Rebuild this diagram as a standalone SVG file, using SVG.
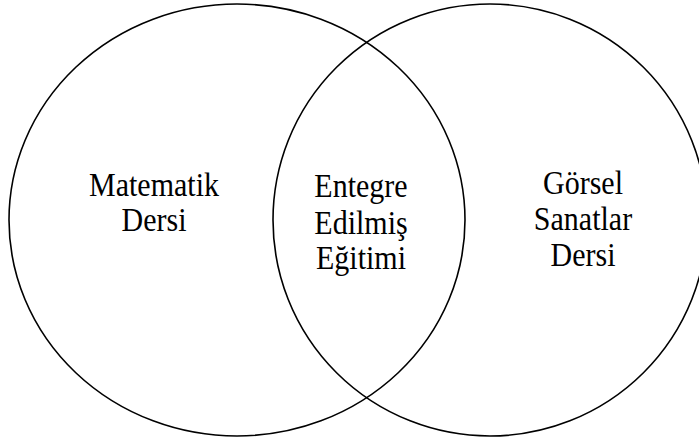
<svg xmlns="http://www.w3.org/2000/svg" width="699" height="441" viewBox="0 0 699 441">
<style>
.c{fill:none;stroke:#000;stroke-width:1.6}
.t{font-family:"Liberation Serif","Times New Roman",serif;font-size:30px;fill:#000;text-anchor:middle}
</style>
<rect width="699" height="441" fill="#fff"/>
<g id="math"><ellipse class="c" cx="237" cy="220" rx="228" ry="216"/>
<g transform="scale(1,1.12)"><text class="t" x="154" y="174.6">Matematik</text><text class="t" x="154" y="206.7">Dersi</text></g></g>
<g id="art"><ellipse class="c" cx="490" cy="220" rx="217" ry="216"/>
<g transform="scale(1,1.12)"><text class="t" x="583" y="172.8">Görsel</text><text class="t" x="583" y="205">Sanatlar</text><text class="t" x="583" y="237.1">Dersi</text></g></g>
<g id="integrated"><g transform="scale(1,1.12)"><text class="t" x="361" y="176.3">Entegre</text><text class="t" x="361" y="208.5">Edilmiş</text><text class="t" x="361" y="240.6">Eğitimi</text></g></g>
<g id="connectors"/>
</svg>
